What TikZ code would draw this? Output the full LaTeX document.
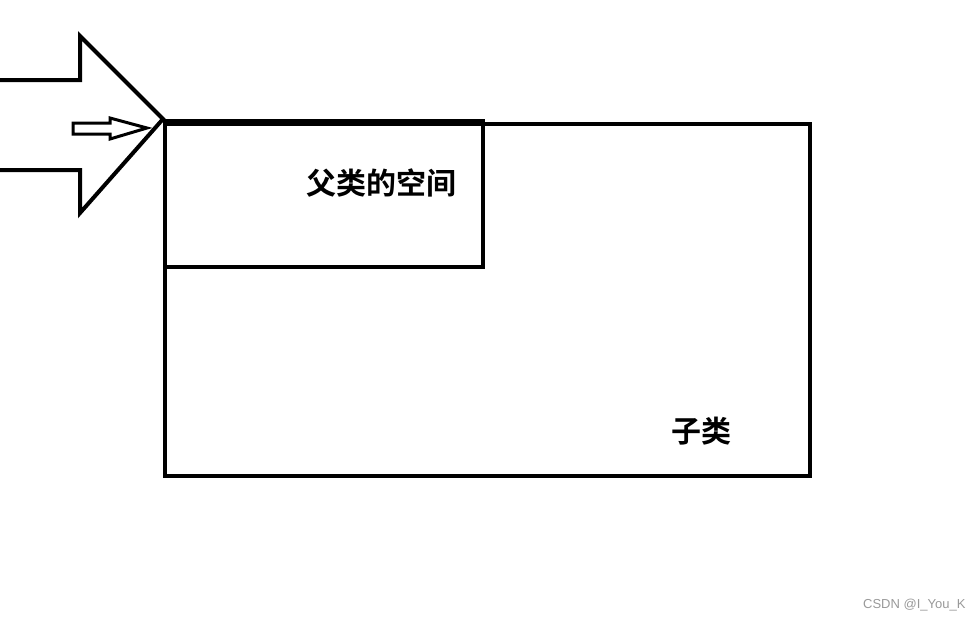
\documentclass[tikz,border=0pt]{standalone}
\usepackage{fontspec}
\setsansfont{Liberation Sans}
\newfontfamily\cjk{Noto Sans CJK SC}[BoldFont={Noto Sans CJK SC Bold}]
\usepackage{tikz}
\usetikzlibrary{positioning}

\begin{document}
\begin{tikzpicture}[x=1pt,y=-1pt]
        \tikzstyle{box} = [draw, line width=4pt, inner sep=0pt];
        \tikzstyle{label} = [font=\cjk\bfseries\fontsize{30}{34}\selectfont, inner sep=0pt];
        \tikzstyle{arrowline} = [line width=4pt, line join=miter];
        \useasboundingbox (0,0) rectangle (975,622);
        % child and parent boxes
        \node [box, minimum width=645pt, minimum height=352pt] (child) at (487.5,300) {};
        \node [box, minimum width=318pt, minimum height=146pt] (parent) at (324,194) {};
        \node [label] (ptext) at (381.5,183) {父类的空间};
        \node [label] (ctext) at (701,431) {子类};
        % big arrow pointing at the corner
        \coordinate (tip) at (parent.north west);
        \draw [arrowline] (0,80) -- (80,80) -- (80,36) -- (tip) -- (80,213) -- (80,170) -- (0,170);
        \draw [line width=3pt, line join=miter] (73,123) -- (110,123) -- (110,118) -- (147,128)
            -- (110,139) -- (110,134) -- (73,134) -- cycle;
        \node [font=\sffamily\fontsize{13}{15}\selectfont, gray!80, anchor=east] (mark) at (969,605) {CSDN @I\_You\_K};
\end{tikzpicture}
\end{document}
